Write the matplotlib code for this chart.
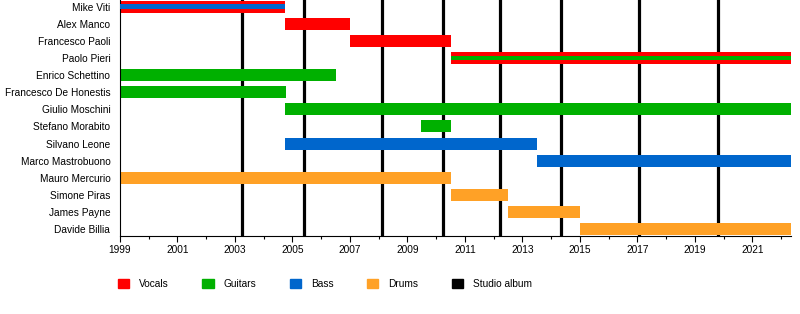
import matplotlib.pyplot as plt
import numpy as np
from matplotlib.patches import Patch

plt.rcParams['font.family'] = ['Liberation Sans', 'DejaVu Sans']

members = ['Mike Viti', 'Alex Manco', 'Francesco Paoli', 'Paolo Pieri',
           'Enrico Schettino', 'Francesco De Honestis', 'Giulio Moschini',
           'Stefano Morabito', 'Silvano Leone', 'Marco Mastrobuono',
           'Mauro Mercurio', 'Simone Piras', 'James Payne', 'Davide Billia']
start = [1999.0, 2004.75, 2007.0, 2010.5,
         1999.0, 1999.0, 2004.75,
         2009.47, 2004.75, 2013.5,
         1999.0, 2010.5, 2012.5, 2015.0]
end = [2004.75, 2007.0, 2010.5, 2022.35,
       2006.5, 2004.78, 2022.35,
       2010.5, 2013.5, 2022.35,
       2010.5, 2012.5, 2015.0, 2022.35]
role = ['Vocals', 'Vocals', 'Vocals', 'Vocals',
        'Guitars', 'Guitars', 'Guitars',
        'Guitars', 'Bass', 'Bass',
        'Drums', 'Drums', 'Drums', 'Drums']
second_role = ['Bass', None, None, 'Guitars',
               None, None, None, None, None, None, None, None, None, None]
albums = [2003.24, 2005.4, 2008.11, 2010.23, 2012.22, 2014.35, 2017.06, 2019.8]

colors = {'Vocals': '#ff0000', 'Guitars': '#00b000', 'Bass': '#0066cc',
          'Drums': '#ffa126', 'Studio album': '#000000'}

fig = plt.figure(figsize=(8, 3.14), dpi=100)
ax = fig.add_axes([0.15, 0.248, 0.839, 0.752])

y = np.arange(len(members))
for a in albums:
    ax.axvline(a, color='black', lw=2.3, zorder=1)

for i in range(len(members)):
    ax.barh(y[i], end[i] - start[i], left=start[i], height=0.7,
            color=colors[role[i]], zorder=2)
    if second_role[i]:
        ax.barh(y[i], end[i] - start[i], left=start[i], height=0.24,
                color=colors[second_role[i]], zorder=3)

ax.set_xlim(1999, 2022.35)
ax.set_ylim(13.4, -0.38)
ax.set_yticks(y)
ax.set_yticklabels(members, fontsize=7.3)
ax.tick_params(axis='y', length=0, pad=7)
ax.set_xticks(np.arange(1999, 2022, 2))
ax.set_xticks(np.arange(1999, 2023, 1), minor=True)
ax.tick_params(axis='x', labelsize=7.3, length=4, width=0.8, direction='out', pad=2.5)
ax.tick_params(axis='x', which='minor', length=2.5, width=0.8)
ax.spines['top'].set_visible(False)
ax.spines['right'].set_visible(False)

labels = ['Vocals', 'Guitars', 'Bass', 'Drums', 'Studio album']
handles = [Patch(color=colors[k]) for k in labels]
fig.legend(handles, labels,
           loc='center left', bbox_to_anchor=(0.136, 0.096), ncol=5, frameon=False,
           fontsize=7.3, handlelength=1.1, handleheight=1.1, handletextpad=1.0,
           columnspacing=3.3)

plt.savefig('out.png', dpi=100)
